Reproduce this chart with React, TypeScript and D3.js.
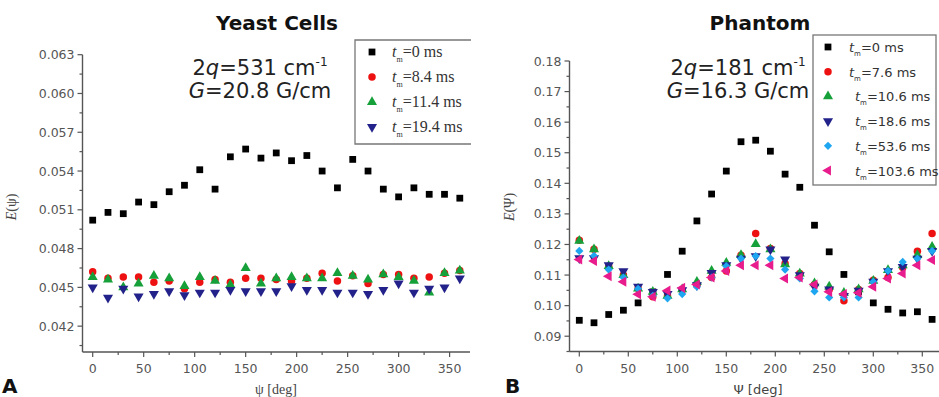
import * as d3 from 'd3';

// angles (deg) shared by both panels
const angles = [0, 15, 30, 45, 60, 75, 90, 105, 120, 135, 150, 165, 180, 195, 210, 225, 240, 255, 270, 285, 300, 315, 330, 345, 360];

// panel A - yeast cells
const yeastT0 = [0.0502, 0.0508, 0.0507, 0.0516, 0.0514, 0.0524, 0.0529, 0.0541, 0.0526, 0.0551, 0.0557, 0.0550, 0.0554, 0.0548, 0.0552, 0.0540, 0.0527, 0.0549, 0.0540, 0.0526, 0.0520, 0.0527, 0.0522, 0.0522, 0.0519];
const yeastT84 = [0.0462, 0.0457, 0.0458, 0.0458, 0.0454, 0.0455, 0.0449, 0.0454, 0.0456, 0.0454, 0.0457, 0.0457, 0.0456, 0.0455, 0.0457, 0.0461, 0.0455, 0.0459, 0.0453, 0.0460, 0.0460, 0.0457, 0.0458, 0.0461, 0.0463];
const yeastT114 = [0.0458, 0.0456, 0.0450, 0.0453, 0.0459, 0.0457, 0.0451, 0.0458, 0.0455, 0.0452, 0.0465, 0.0453, 0.0457, 0.0458, 0.0457, 0.0457, 0.0461, 0.0459, 0.0456, 0.0460, 0.0458, 0.0455, 0.0446, 0.0461, 0.0463];
const yeastT194 = [0.0450, 0.0442, 0.0449, 0.0443, 0.0445, 0.0447, 0.0444, 0.0446, 0.0446, 0.0448, 0.0447, 0.0447, 0.0447, 0.0451, 0.0448, 0.0448, 0.0446, 0.0446, 0.0445, 0.0448, 0.0453, 0.0446, 0.0449, 0.0450, 0.0457];

// panel B - phantom
const phT0 = [0.0952, 0.0944, 0.0971, 0.0985, 0.1009, 0.1045, 0.1102, 0.1178, 0.1277, 0.1365, 0.1440, 0.1536, 0.1541, 0.1505, 0.1430, 0.1387, 0.1263, 0.1176, 0.1102, 0.1045, 0.1009, 0.0988, 0.0976, 0.0980, 0.0955];
const phT76 = [0.1214, 0.1184, 0.1129, 0.1100, 0.1056, 0.1029, 0.1032, 0.1051, 0.1067, 0.1092, 0.1113, 0.1165, 0.1236, 0.1187, 0.1138, 0.1105, 0.1069, 0.1053, 0.1016, 0.1053, 0.1083, 0.1092, 0.1125, 0.1178, 0.1236];
const phT106 = [0.1212, 0.1184, 0.1129, 0.1100, 0.1056, 0.1045, 0.1032, 0.1053, 0.1078, 0.1114, 0.1140, 0.1165, 0.1201, 0.1184, 0.1135, 0.1105, 0.1073, 0.1062, 0.1042, 0.1053, 0.1081, 0.1116, 0.1132, 0.1165, 0.1192];
const phT186 = [0.1155, 0.1155, 0.1132, 0.1113, 0.1062, 0.1045, 0.1038, 0.1051, 0.1067, 0.1107, 0.1132, 0.1154, 0.1162, 0.1184, 0.1151, 0.1100, 0.1062, 0.1053, 0.1032, 0.1049, 0.1078, 0.1113, 0.1127, 0.1154, 0.1179];
const phT536 = [0.1179, 0.1163, 0.1118, 0.1092, 0.1055, 0.1032, 0.1024, 0.1038, 0.1062, 0.1092, 0.1129, 0.1154, 0.1162, 0.1154, 0.1118, 0.1089, 0.1047, 0.1027, 0.1027, 0.1027, 0.1078, 0.1114, 0.1143, 0.1154, 0.1179];
const phT1036 = [0.1151, 0.1146, 0.1096, 0.1078, 0.1037, 0.1029, 0.1049, 0.1058, 0.1069, 0.1092, 0.1113, 0.1132, 0.1132, 0.1132, 0.1089, 0.1092, 0.1069, 0.1045, 0.1038, 0.1042, 0.1062, 0.1089, 0.1105, 0.1132, 0.1149];

const yeastLabels = ['0', '8.4', '11.4', '19.4'];
const phantomLabels = ['0', '7.6', '10.6', '18.6', '53.6', '103.6'];

// tick values
const xMajor = [0, 50, 100, 150, 200, 250, 300, 350];
const xMinor = [25, 75, 125, 175, 225, 275, 325];
const yeastYMajor = [0.042, 0.045, 0.048, 0.051, 0.054, 0.057, 0.060, 0.063];
const yeastYMinor = [0.0405, 0.0435, 0.0465, 0.0495, 0.0525, 0.0555, 0.0585, 0.0615];
const phYMajor = [0.09, 0.10, 0.11, 0.12, 0.13, 0.14, 0.15, 0.16, 0.17, 0.18];
const phYMinor = [0.085, 0.095, 0.105, 0.115, 0.125, 0.135, 0.145, 0.155, 0.165, 0.175];

const SANS = 'DejaVu Sans, Verdana, sans-serif';
const SERIF = 'Liberation Serif, Times New Roman, serif';
const AXIS = '#555';

type Style = { color: string; shape: string };
const styles: Style[] = [
  { color: '#000000', shape: 'square' },
  { color: '#ee1111', shape: 'circle' },
  { color: '#16a03a', shape: 'up' },
  { color: '#22228a', shape: 'down' },
  { color: '#1ea6f0', shape: 'diamond' },
  { color: '#e81c8c', shape: 'left' },
];

const symbolPath = (shape: string) => {
  if (shape === 'square') return { d: d3.symbol(d3.symbolSquare, 46)()!, rot: 0 };
  if (shape === 'circle') return { d: d3.symbol(d3.symbolCircle, 44)()!, rot: 0 };
  if (shape === 'diamond') return { d: d3.symbol(d3.symbolSquare, 34)()!, rot: 45 };
  const tri = d3.symbol(d3.symbolTriangle, 44)()!;
  if (shape === 'down') return { d: tri, rot: 180 };
  if (shape === 'left') return { d: tri, rot: -90 };
  return { d: tri, rot: 0 };
};

const Marker = ({ x, y, st }: { x: number; y: number; st: Style }) => {
  const s = symbolPath(st.shape);
  return <path d={s.d} transform={`translate(${x},${y}) rotate(${s.rot})`} fill={st.color} />;
};

type PanelProps = {
  x: d3.ScaleLinear<number, number>;
  y: d3.ScaleLinear<number, number>;
  series: number[][];
  yMajor: number[];
  yMinor: number[];
  yFmt: (v: number) => string;
};

const Axes = ({ x, y, series, yMajor, yMinor, yFmt }: PanelProps) => {
  const [x0, x1] = x.range();
  const [yb, yt] = y.range();
  return (
    <g>
      {series.map((vals, si) => (
        <g key={si}>
          {vals.map((v, i) => (
            <Marker key={i} x={x(angles[i])} y={y(v)} st={styles[si]} />
          ))}
        </g>
      ))}
      <line x1={x0} x2={x0} y1={yt} y2={yb} stroke={AXIS} strokeWidth={1.4} />
      <line x1={x0} x2={x1} y1={yb} y2={yb} stroke={AXIS} strokeWidth={1.4} />
      {yMajor.map(v => (
        <g key={v}>
          <line x1={x0 - 5} x2={x0} y1={y(v)} y2={y(v)} stroke={AXIS} strokeWidth={1.2} />
          <text x={x0 - 8} y={y(v) + 4.5} textAnchor="end" fontFamily={SANS} fontSize={12.5} fill="#555">
            {yFmt(v)}
          </text>
        </g>
      ))}
      {yMinor.map(v => (
        <line key={v} x1={x0 - 3} x2={x0} y1={y(v)} y2={y(v)} stroke={AXIS} strokeWidth={1.2} />
      ))}
      {xMajor.map(v => (
        <g key={v}>
          <line x1={x(v)} x2={x(v)} y1={yb} y2={yb + 5} stroke={AXIS} strokeWidth={1.2} />
          <text x={x(v)} y={yb + 21} textAnchor="middle" fontFamily={SANS} fontSize={12.5} fill="#555">
            {v}
          </text>
        </g>
      ))}
      {xMinor.map(v => (
        <line key={v} x1={x(v)} x2={x(v)} y1={yb} y2={yb + 3} stroke={AXIS} strokeWidth={1.2} />
      ))}
    </g>
  );
};

const App = () => {
  const xA = d3.scaleLinear().domain([-10, 370]).range([82.5, 470]);
  const yA = d3.scaleLinear().domain([0.040, 0.063]).range([352, 54.7]);
  const xB = d3.scaleLinear().domain([-10, 370]).range([569.5, 941.9]);
  const yB = d3.scaleLinear().domain([0.085, 0.18]).range([351.5, 61]);

  return (
    <svg width={939} height={397} style={{ position: 'absolute', left: 0, top: 0, background: '#fff' }}>
      <rect width={939} height={397} fill="#fff" />

      {/* Panel A */}
      <text x={277} y={30} textAnchor="middle" fontFamily={SANS} fontWeight="bold" fontSize={20} fill="#111">
        Yeast Cells
      </text>
      <Axes x={xA} y={yA} series={[yeastT0, yeastT84, yeastT114, yeastT194]}
        yMajor={yeastYMajor} yMinor={yeastYMinor} yFmt={d3.format('.3f')} />
      <text x={260} y={75} textAnchor="middle" fontFamily={SANS} fontSize={21} fill="#222">
        2<tspan fontStyle="italic">q</tspan>=531 cm<tspan dy={-9} fontSize={12}>-1</tspan>
      </text>
      <text x={260} y={98} textAnchor="middle" fontFamily={SANS} fontSize={21} fill="#222">
        <tspan fontStyle="italic">G</tspan>=20.8 G/cm
      </text>
      <path d="M471,40 H355 V144 H471" fill="none" stroke="#777" strokeWidth={1.3} />
      {yeastLabels.map((l, i) => (
        <g key={l}>
          <Marker x={372} y={52 + i * 25} st={styles[i]} />
          <text x={392} y={57 + i * 25} fontFamily={SERIF} fontSize={16} fill="#333">
            <tspan fontStyle="italic">t</tspan>
            <tspan dy={5} fontSize={8}>m</tspan>
            <tspan dy={-5}>={l} ms</tspan>
          </text>
        </g>
      ))}
      <text x={16} y={207} transform="rotate(-90,16,207)" textAnchor="middle" fontFamily={SERIF} fontSize={14} fill="#444">
        <tspan fontStyle="italic">E</tspan>(ψ)
      </text>
      <text x={276} y={394} textAnchor="middle" fontFamily={SERIF} fontSize={14} fill="#444">
        ψ [deg]
      </text>
      <text x={2} y={393} fontFamily={SANS} fontWeight="bold" fontSize={20} fill="#111">A</text>

      {/* Panel B */}
      <text x={760} y={30} textAnchor="middle" fontFamily={SANS} fontWeight="bold" fontSize={20} fill="#111">
        Phantom
      </text>
      <Axes x={xB} y={yB} series={[phT0, phT76, phT106, phT186, phT536, phT1036]}
        yMajor={phYMajor} yMinor={phYMinor} yFmt={d3.format('.2f')} />
      <text x={738} y={75} textAnchor="middle" fontFamily={SANS} fontSize={21} fill="#222">
        2<tspan fontStyle="italic">q</tspan>=181 cm<tspan dy={-9} fontSize={12}>-1</tspan>
      </text>
      <text x={738} y={98} textAnchor="middle" fontFamily={SANS} fontSize={21} fill="#222">
        <tspan fontStyle="italic">G</tspan>=16.3 G/cm
      </text>
      <rect x={813} y={35} width={123} height={150} fill="#fff" stroke="#777" strokeWidth={1.3} />
      {phantomLabels.map((l, i) => (
        <g key={l}>
          <Marker x={828} y={47 + i * 24.7} st={styles[i]} />
          <text x={i < 2 ? 849 : 855} y={52 + i * 24.7} fontFamily={SANS} fontSize={13} fill="#333">
            <tspan fontStyle="italic">t</tspan>
            <tspan dy={4} fontSize={7}>m</tspan>
            <tspan dy={-4}>={l} ms</tspan>
          </text>
        </g>
      ))}
      <text x={514} y={207} transform="rotate(-90,514,207)" textAnchor="middle" fontFamily={SERIF} fontSize={14} fill="#444">
        <tspan fontStyle="italic">E</tspan>(Ψ)
      </text>
      <text x={758} y={394} textAnchor="middle" fontFamily={SANS} fontSize={13} fill="#444">
        Ψ [deg]
      </text>
      <text x={505} y={393} fontFamily={SANS} fontWeight="bold" fontSize={20} fill="#111">B</text>
    </svg>
  );
};

export default App;
